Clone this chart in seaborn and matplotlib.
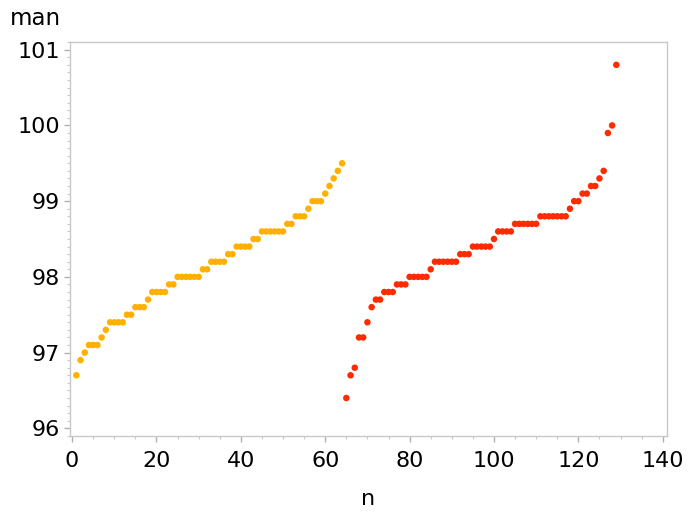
import numpy as np
import pandas as pd
import matplotlib
matplotlib.use("Agg")
import matplotlib.pyplot as plt
from matplotlib.ticker import MultipleLocator
import seaborn as sns

# sorted values, group 1 (orange), n = 1..64
man_1 = [96.7, 96.9, 97.0, 97.1, 97.1, 97.1, 97.2, 97.3,
         97.4, 97.4, 97.4, 97.4, 97.5, 97.5, 97.6, 97.6, 97.6, 97.7,
         97.8, 97.8, 97.8, 97.8, 97.9, 97.9,
         98.0, 98.0, 98.0, 98.0, 98.0, 98.0, 98.1, 98.1,
         98.2, 98.2, 98.2, 98.2, 98.3, 98.3, 98.4, 98.4, 98.4, 98.4,
         98.5, 98.5, 98.6, 98.6, 98.6, 98.6, 98.6, 98.6, 98.7, 98.7,
         98.8, 98.8, 98.8, 98.9, 99.0, 99.0, 99.0,
         99.1, 99.2, 99.3, 99.4, 99.5]

# sorted values, group 2 (red), n = 65..129
man_2 = [96.4, 96.7, 96.8, 97.2, 97.2, 97.4, 97.6, 97.7, 97.7,
         97.8, 97.8, 97.8, 97.9, 97.9, 97.9,
         98.0, 98.0, 98.0, 98.0, 98.0, 98.1,
         98.2, 98.2, 98.2, 98.2, 98.2, 98.2, 98.3, 98.3, 98.3,
         98.4, 98.4, 98.4, 98.4, 98.4, 98.5, 98.6, 98.6, 98.6, 98.6,
         98.7, 98.7, 98.7, 98.7, 98.7, 98.7,
         98.8, 98.8, 98.8, 98.8, 98.8, 98.8, 98.8, 98.9,
         99.0, 99.0, 99.1, 99.1, 99.2, 99.2, 99.3, 99.4,
         99.9, 100.0, 100.8]

groups = ["g1", "g2"]
colors = {"g1": "#FFB000", "g2": "#FF2A00"}

vals = man_1 + man_2
df = pd.DataFrame({
    "n": np.arange(1, len(vals) + 1),
    "man": vals,
    "grp": ["g1"] * len(man_1) + ["g2"] * len(man_2),
})

sns.set_style("white")
plt.rcParams["font.family"] = ["DejaVu Sans"]

fig = plt.figure(figsize=(6.89, 5.14), dpi=100)
ax = fig.add_axes([0.1016, 0.152, 0.8664, 0.766])

sns.scatterplot(data=df, x="n", y="man", hue="grp", hue_order=groups,
                palette=colors, s=22, linewidth=0, legend=False, ax=ax)

ax.set_xlim(-0.5, 141)
ax.set_ylim(95.9, 101.1)
ax.xaxis.set_major_locator(MultipleLocator(20))
ax.xaxis.set_minor_locator(MultipleLocator(5))
ax.yaxis.set_major_locator(MultipleLocator(1))
ax.yaxis.set_minor_locator(MultipleLocator(0.1))

for sp in ax.spines.values():
    sp.set_color("#C8C8C8")
    sp.set_linewidth(1)

ax.tick_params(which="major", direction="out", length=4, width=1,
               color="#B0B0B0", labelsize=16, labelcolor="black", pad=3,
               bottom=True, left=True)
ax.tick_params(axis="x", which="major", pad=7)
ax.tick_params(which="minor", direction="out", length=2.5, width=0.8,
               color="#C8C8C8", bottom=True, left=True)

ax.set_xlabel("n", fontsize=16, va="center", color="black")
ax.xaxis.set_label_coords(0.5, -0.16)
ax.set_ylabel("man", fontsize=16.5, rotation=0, ha="center", va="center",
              color="black")
ax.yaxis.set_label_coords(-0.058, 1.06)

fig.savefig("out.png", dpi=100)
